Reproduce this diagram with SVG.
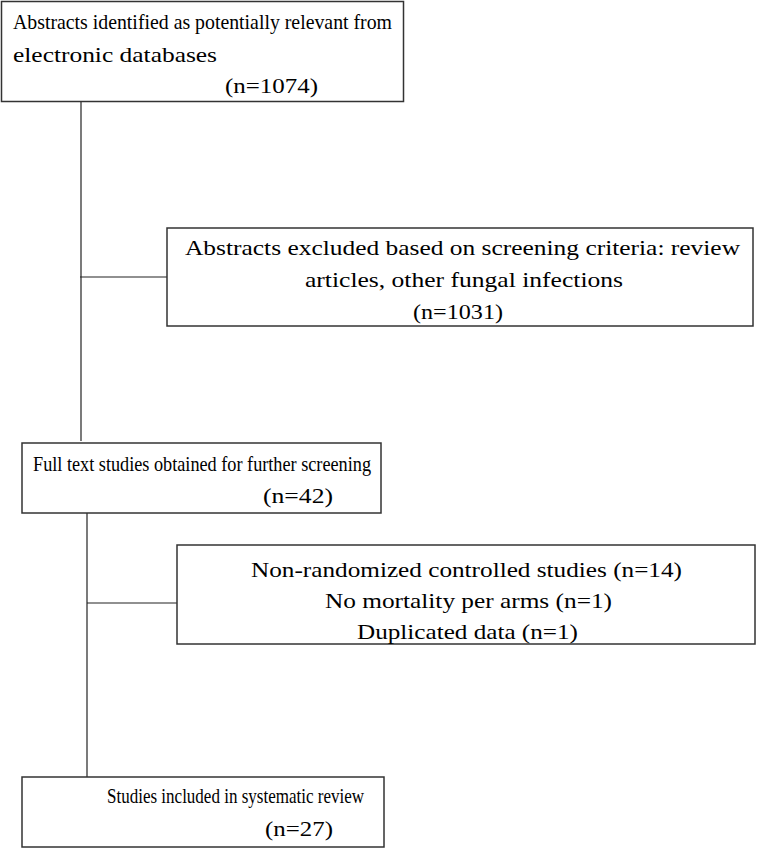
<svg xmlns="http://www.w3.org/2000/svg" width="757" height="849" viewBox="0 0 757 849">
<style>
.box{fill:#fff;stroke:#333;stroke-width:1.5}
.ln{stroke:#222;stroke-width:1.2;fill:none}
text{font-family:"Liberation Serif","Times New Roman",serif;fill:#000}
.w{font-size:21.5px}
.n{font-size:22px}
</style>
<rect width="757" height="849" fill="#fff"/>
<g id="connectors">
<line class="ln" x1="81" y1="101" x2="81" y2="441"/>
<line class="ln" x1="80" y1="277" x2="167" y2="277"/>
<line class="ln" x1="87" y1="513" x2="87" y2="780"/>
<line class="ln" x1="87" y1="603" x2="177" y2="603"/>
</g>
<g id="n1">
<rect class="box" x="1.5" y="1.5" width="402" height="100"/>
<text class="w" x="13" y="29" textLength="379" lengthAdjust="spacingAndGlyphs">Abstracts identified as potentially relevant from</text>
<text class="w" x="13" y="62" textLength="204" lengthAdjust="spacingAndGlyphs">electronic databases</text>
<text class="w" x="225" y="93" textLength="93" lengthAdjust="spacingAndGlyphs">(n=1074)</text>
</g>
<g id="n2">
<rect class="box" x="167" y="228" width="586" height="98"/>
<text class="n" x="185" y="255" textLength="555" lengthAdjust="spacingAndGlyphs">Abstracts excluded based on screening criteria: review</text>
<text class="n" x="305" y="287" textLength="318" lengthAdjust="spacingAndGlyphs">articles, other fungal infections</text>
<text class="n" x="413" y="319" textLength="90" lengthAdjust="spacingAndGlyphs">(n=1031)</text>
</g>
<g id="n3">
<rect class="box" x="22" y="443" width="359" height="70"/>
<text class="w" x="33" y="471" textLength="338" lengthAdjust="spacingAndGlyphs">Full text studies obtained for further screening</text>
<text class="w" x="263" y="503" textLength="70" lengthAdjust="spacingAndGlyphs">(n=42)</text>
</g>
<g id="n4">
<rect class="box" x="177" y="545" width="578" height="99"/>
<text class="n" x="251" y="577" textLength="431" lengthAdjust="spacingAndGlyphs">Non-randomized controlled studies (n=14)</text>
<text class="n" x="325" y="608" textLength="287" lengthAdjust="spacingAndGlyphs">No mortality per arms (n=1)</text>
<text class="n" x="357" y="639" textLength="221" lengthAdjust="spacingAndGlyphs">Duplicated data (n=1)</text>
</g>
<g id="n5">
<rect class="box" x="22" y="777" width="362" height="70"/>
<text class="w" x="107" y="803" textLength="257" lengthAdjust="spacingAndGlyphs">Studies included in systematic review</text>
<text class="w" x="265" y="836" textLength="68" lengthAdjust="spacingAndGlyphs">(n=27)</text>
</g>
</svg>
